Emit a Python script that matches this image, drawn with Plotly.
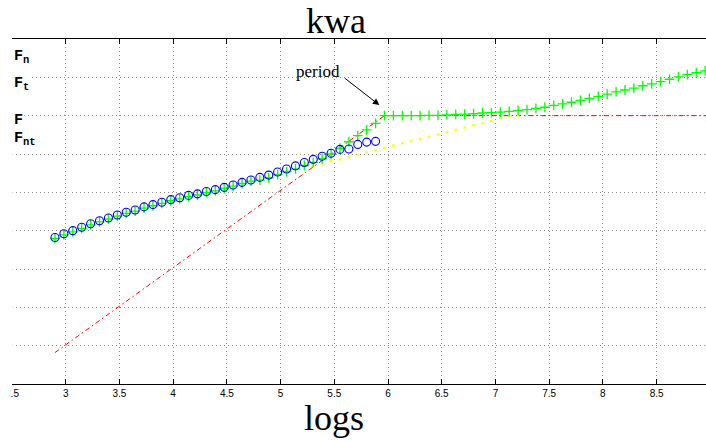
import numpy as np
import plotly.graph_objects as go

# sample grid on the "logs" axis (74 evenly spaced samples)
x_grid = np.linspace(2.9, 8.952, 74)

# blue circles: first 37 samples
blue_y = [3.82, 3.92, 4.00, 4.09, 4.18, 4.26, 4.33, 4.41, 4.48, 4.54,
          4.62, 4.68, 4.74, 4.81, 4.86, 4.92, 4.96, 5.02, 5.07, 5.13,
          5.19, 5.26, 5.32, 5.39, 5.45, 5.53, 5.61, 5.69, 5.78, 5.86,
          5.94, 6.02, 6.12, 6.13, 6.25, 6.31, 6.33]

# green crosses: all samples
green_y = [3.79, 3.89, 3.97, 4.06, 4.15, 4.23, 4.30, 4.38, 4.45, 4.51,
           4.59, 4.65, 4.71, 4.78, 4.83, 4.89, 4.93, 4.99, 5.04, 5.10,
           5.16, 5.23, 5.29, 5.32, 5.38, 5.46, 5.54, 5.61, 5.70, 5.78,
           5.88, 6.00, 6.15, 6.32, 6.48, 6.63, 6.80, 7.00, 7.00, 7.00,
           7.00, 7.00, 7.01, 7.01, 7.02, 7.03, 7.04, 7.05, 7.07, 7.08,
           7.09, 7.11, 7.14, 7.16, 7.19, 7.22, 7.27, 7.31, 7.35, 7.40,
           7.45, 7.50, 7.56, 7.62, 7.67, 7.72, 7.78, 7.83, 7.89, 7.95,
           8.01, 8.07, 8.12, 8.17]

# yellow dots: samples 29..52
yellow_start = 29
yellow_y = [5.69, 5.75, 5.81, 5.86, 5.92, 5.98, 6.04, 6.10, 6.16, 6.22,
            6.28, 6.34, 6.39, 6.45, 6.51, 6.57, 6.63, 6.69, 6.75, 6.81,
            6.87, 6.93, 6.98, 7.00]

# red dash-dot reference: rising segment then the plateau
red_x = [2.9, 5.967, 8.96]
red_y = [0.82, 7.0, 7.0]

x_ticks = [2.5, 3, 3.5, 4, 4.5, 5, 5.5, 6, 6.5, 7, 7.5, 8, 8.5]
x_tick_text = ["2.5", "3", "3.5", "4", "4.5", "5", "5.5", "6", "6.5", "7", "7.5", "8", "8.5"]

series_labels = ["F<sub>n</sub>", "F<sub>t</sub>", "F", "F<sub>nt</sub>"]
series_label_y = [8.53, 7.83, 6.88, 6.40]

fig = go.Figure()

fig.add_trace(go.Scatter(
    x=red_x, y=red_y, mode="lines",
    line=dict(color="#ff0000", width=1, dash="5px,3px,1.5px,3px"),
    hoverinfo="skip"))

fig.add_trace(go.Scatter(
    x=x_grid[yellow_start:yellow_start + len(yellow_y)], y=yellow_y,
    mode="markers",
    marker=dict(symbol="square", size=2.5, color="#ffff00", line=dict(width=0))))

fig.add_trace(go.Scatter(
    x=x_grid[:len(green_y)], y=green_y, mode="markers",
    marker=dict(symbol="cross-thin", size=7, color="#00ff00",
                line=dict(width=1.3, color="#00ff00"))))

fig.add_trace(go.Scatter(
    x=x_grid[:len(blue_y)], y=blue_y, mode="markers",
    marker=dict(symbol="circle-open", size=8, color="#0000ff",
                line=dict(width=1.1, color="#0000ff"))))

annotations = [
    dict(text="kwa", xref="paper", yref="paper", x=0.467, y=1.052,
         xanchor="center", yanchor="middle", showarrow=False,
         font=dict(family="Liberation Serif", size=36, color="black")),
    dict(text="logs", xref="paper", yref="paper", x=0.464, y=-0.098,
         xanchor="center", yanchor="middle", showarrow=False,
         font=dict(family="Liberation Serif", size=36, color="black")),
    dict(text="period", x=5.348, y=8.16, xref="x", yref="y",
         xanchor="center", yanchor="middle", showarrow=False,
         font=dict(family="Liberation Serif", size=17, color="black")),
    dict(text="", x=5.919, y=7.277, xref="x", yref="y",
         ax=-36, ay=-28, showarrow=True, arrowhead=2, arrowsize=1.3,
         arrowwidth=1, arrowcolor="black"),
]
for label, ly in zip(series_labels, series_label_y):
    annotations.append(dict(
        text="<b>" + label + "</b>", xref="paper", yref="y", x=0.0, y=ly,
        xanchor="left", yanchor="middle", showarrow=False, bgcolor="white",
        font=dict(family="Liberation Mono", size=15, color="black")))

# the left edge of the frame is left open, as is the leading digit of the first tick label
edge_masks = [
    dict(type="rect", xref="paper", yref="paper", layer="above",
         x0=-0.02, x1=0.0009, y0=0.003, y1=0.997,
         fillcolor="white", line=dict(width=0)),
    dict(type="rect", xref="paper", yref="paper", layer="above",
         x0=-0.02, x1=-0.0025, y0=-0.07, y1=-0.005,
         fillcolor="white", line=dict(width=0)),
]

grid_style = dict(showgrid=True, gridcolor="#8a8a8a", griddash="1px,3px", gridwidth=1)

fig.update_layout(
    width=706, height=441,
    margin=dict(l=12, r=0, t=39, b=57, pad=0),
    plot_bgcolor="white", paper_bgcolor="white",
    showlegend=False,
    annotations=annotations,
    shapes=edge_masks,
    xaxis=dict(range=[2.5, 8.96], tickvals=x_ticks, ticktext=x_tick_text,
               showline=True, linecolor="black", linewidth=1, mirror="ticks",
               ticks="inside", ticklen=5, tickcolor="black", tickwidth=1,
               tickfont=dict(family="Liberation Sans", size=10, color="black"),
               zeroline=False, **grid_style),
    yaxis=dict(range=[0, 9], dtick=1, showticklabels=False, showline=False,
               ticks="", zeroline=False, **grid_style),
)

fig.write_html("out.html")
